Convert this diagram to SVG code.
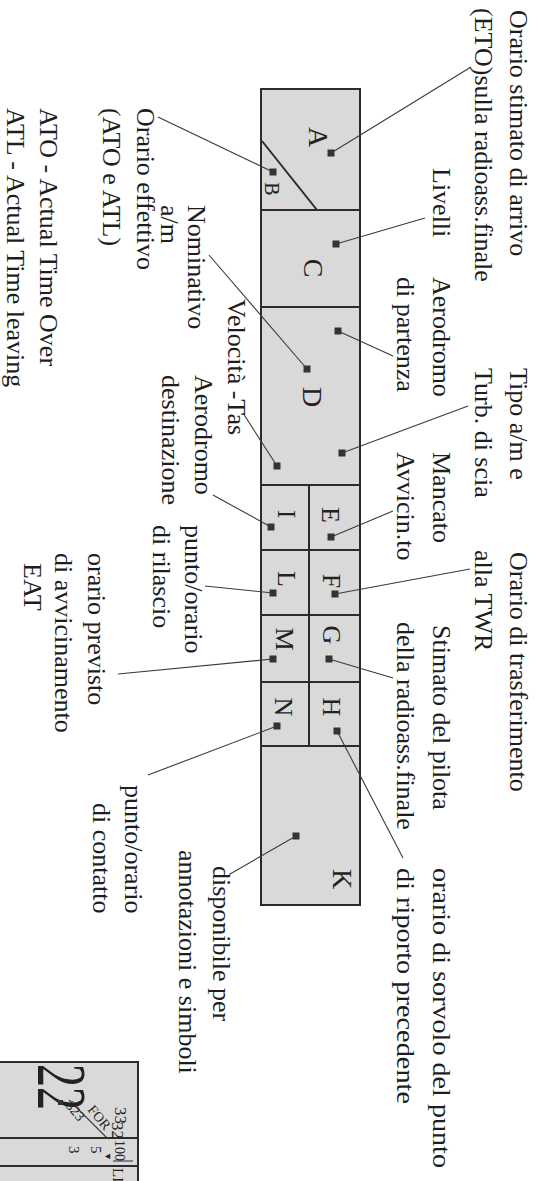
<svg xmlns="http://www.w3.org/2000/svg" width="543" height="1181" viewBox="0 0 543 1181">
<style>
.t{font-family:"Liberation Serif","Times New Roman",serif;font-size:26px;fill:#1e1e1e}
.lt{font-family:"Liberation Serif","Times New Roman",serif;font-size:28px;fill:#222;text-anchor:middle}
.cell{fill:#d9d9d9;stroke:#2b2b2b;stroke-width:2}
.dv{stroke:#2b2b2b;stroke-width:2}
.ld{stroke:#3a3a3a;stroke-width:1.1;fill:none}
.dot{fill:#333}
.hw{font-family:"Liberation Serif","Times New Roman",serif;fill:#222}
</style>
<rect width="543" height="1181" fill="#ffffff"/>
<g transform="translate(543 0) rotate(90)">
  <g id="strip">
    <rect class="cell" x="89" y="183" width="816" height="99"/>
    <line class="dv" x1="210" y1="183" x2="210" y2="282"/>
    <line class="dv" x1="307" y1="183" x2="307" y2="282"/>
    <line class="dv" x1="485" y1="183" x2="485" y2="282"/>
    <line class="dv" x1="550" y1="183" x2="550" y2="282"/>
    <line class="dv" x1="615" y1="183" x2="615" y2="282"/>
    <line class="dv" x1="682" y1="183" x2="682" y2="282"/>
    <line class="dv" x1="746" y1="183" x2="746" y2="282"/>
    <line class="dv" x1="485" y1="234" x2="746" y2="234"/>
    <line class="dv" x1="141" y1="281" x2="210" y2="226"/>
  </g>
  <g id="cell-A"><text class="lt" x="137" y="234">A</text><rect class="dot" x="149.5" y="208.5" width="7" height="7"/></g>
  <g id="cell-B"><text class="lt" x="189" y="278" style="font-size:20px">B</text><rect class="dot" x="168.5" y="266.5" width="7" height="7"/></g>
  <g id="cell-C"><text class="lt" x="268" y="239">C</text><rect class="dot" x="240.5" y="203.5" width="7" height="7"/></g>
  <g id="cell-D"><text class="lt" x="397" y="240">D</text>
    <rect class="dot" x="327.5" y="201.5" width="7" height="7"/>
    <rect class="dot" x="365.5" y="232.5" width="7" height="7"/>
    <rect class="dot" x="449.5" y="197.5" width="7" height="7"/>
    <rect class="dot" x="462.5" y="262.5" width="7" height="7"/></g>
  <g id="cell-E"><text class="lt" x="515" y="221" style="font-size:26px">E</text><rect class="dot" x="533.5" y="208.5" width="7" height="7"/></g>
  <g id="cell-I"><text class="lt" x="514" y="265" style="font-size:26px">I</text><rect class="dot" x="523.5" y="268.5" width="7" height="7"/></g>
  <g id="cell-F"><text class="lt" x="581" y="220" style="font-size:26px">F</text><rect class="dot" x="590.5" y="204.5" width="7" height="7"/></g>
  <g id="cell-L"><text class="lt" x="579" y="265" style="font-size:26px">L</text><rect class="dot" x="589.5" y="266.5" width="7" height="7"/></g>
  <g id="cell-G"><text class="lt" x="635" y="220" style="font-size:26px">G</text><rect class="dot" x="655.5" y="210.5" width="7" height="7"/></g>
  <g id="cell-M"><text class="lt" x="639" y="267" style="font-size:26px">M</text><rect class="dot" x="655.5" y="266.5" width="7" height="7"/></g>
  <g id="cell-H"><text class="lt" x="707" y="220" style="font-size:26px">H</text><rect class="dot" x="727.5" y="202.5" width="7" height="7"/></g>
  <g id="cell-N"><text class="lt" x="707" y="268" style="font-size:26px">N</text><rect class="dot" x="722.5" y="262.5" width="7" height="7"/></g>
  <g id="cell-K"><text class="lt" x="879" y="210">K</text><rect class="dot" x="832.5" y="243.5" width="7" height="7"/></g>

  <g id="connectors">
    <line class="ld" x1="153" y1="212" x2="67" y2="72"/>
    <line class="ld" x1="172" y1="270" x2="117" y2="385"/>
    <line class="ld" x1="244" y1="207" x2="218" y2="118"/>
    <line class="ld" x1="331" y1="205" x2="356" y2="150"/>
    <line class="ld" x1="369" y1="236" x2="255" y2="334"/>
    <line class="ld" x1="453" y1="201" x2="406" y2="75"/>
    <line class="ld" x1="466" y1="266" x2="413" y2="300"/>
    <line class="ld" x1="537" y1="212" x2="511" y2="150"/>
    <line class="ld" x1="527" y1="272" x2="495" y2="330"/>
    <line class="ld" x1="594" y1="208" x2="569" y2="73"/>
    <line class="ld" x1="593" y1="270" x2="586" y2="338"/>
    <line class="ld" x1="659" y1="214" x2="678" y2="150"/>
    <line class="ld" x1="659" y1="270" x2="674" y2="425"/>
    <line class="ld" x1="731" y1="206" x2="858" y2="140"/>
    <line class="ld" x1="726" y1="266" x2="775" y2="395"/>
    <line class="ld" x1="836" y1="247" x2="874" y2="313"/>
  </g>

  <g id="labels">
    <text class="t" x="10" y="33">Orario stimato di arrivo</text>
    <text class="t" x="8" y="68">(ETO)sulla radioass.finale</text>
    <text class="t" x="168" y="110">Livelli</text>
    <text class="t" x="277" y="110">Aerodromo</text>
    <text class="t" x="277" y="146">di partenza</text>
    <text class="t" x="368" y="33">Tipo a/m e</text>
    <text class="t" x="368" y="68">Turb. di scia</text>
    <text class="t" x="452" y="110">Mancato</text>
    <text class="t" x="452" y="146">Avvicin.to</text>
    <text class="t" x="552" y="33">Orario di trasferimento</text>
    <text class="t" x="550" y="68">alla TWR</text>
    <text class="t" x="625" y="110">Stimato del pilota</text>
    <text class="t" x="622" y="146">della radioass.finale</text>
    <text class="t" x="868" y="110" textLength="300" lengthAdjust="spacingAndGlyphs">orario di sorvolo del punto</text>
    <text class="t" x="868" y="146" textLength="236" lengthAdjust="spacingAndGlyphs">di riporto precedente</text>

    <text class="t" x="299" y="315">Velocità -Tas</text>
    <text class="t" x="205" y="355">Nominativo</text>
    <text class="t" x="205" y="382">a/m</text>
    <text class="t" x="375" y="348">Aerodromo</text>
    <text class="t" x="375" y="381">destinazione</text>
    <text class="t" x="525" y="358">punto/orario</text>
    <text class="t" x="525" y="390">di rilascio</text>
    <text class="t" x="866" y="330">disponibile per</text>
    <text class="t" x="850" y="364">annotazioni e simboli</text>
    <text class="t" x="108" y="406">Orario effettivo</text>
    <text class="t" x="108" y="440">(ATO e ATL)</text>
    <text class="t" x="785" y="418">punto/orario</text>
    <text class="t" x="803" y="450">di contatto</text>
    <text class="t" x="553" y="455">orario previsto</text>
    <text class="t" x="553" y="488">di avvicinamento</text>
    <text class="t" x="563" y="519">EAT</text>
    <text class="t" x="108" y="503">ATO - Actual Time Over</text>
    <text class="t" x="108" y="536">ATL - Actual Time leaving</text>
  </g>

  <g id="fragment">
    <rect class="cell" x="1062" y="405" width="140" height="160"/>
    <line class="dv" x1="1138" y1="405" x2="1138" y2="543"/>
    <line class="dv" x1="1166" y1="405" x2="1166" y2="543"/>
    <line class="ld" x1="1100" y1="474" x2="1138" y2="436"/>
    <line class="ld" x1="1161" y1="410" x2="1161" y2="430"/>
    <text class="hw" x="1064" y="505" textLength="46" lengthAdjust="spacingAndGlyphs" style="font-size:70px">22</text>
    <text class="hw" x="1107" y="428" style="font-size:17px">33</text>
    <text class="hw" x="1122" y="431" style="font-size:17px">32</text>
    <text class="hw" transform="translate(1110 456) rotate(-40)" style="font-size:14px">FOR</text>
    <text class="hw" transform="translate(1106 478) rotate(-40)" style="font-size:14px">323</text>
    <rect class="dot" x="1100" y="480" width="5" height="5"/>
    <text class="hw" x="1140" y="428" style="font-size:14px">100</text>
    <text class="hw" x="1152" y="438" style="font-size:9px">▼</text>
    <text class="hw" x="1146" y="452" style="font-size:15px">5</text>
    <text class="hw" x="1146" y="474" style="font-size:15px">3</text>
    <text class="hw" x="1168" y="430" style="font-size:15px">LI</text>
  </g>
</g>
</svg>
